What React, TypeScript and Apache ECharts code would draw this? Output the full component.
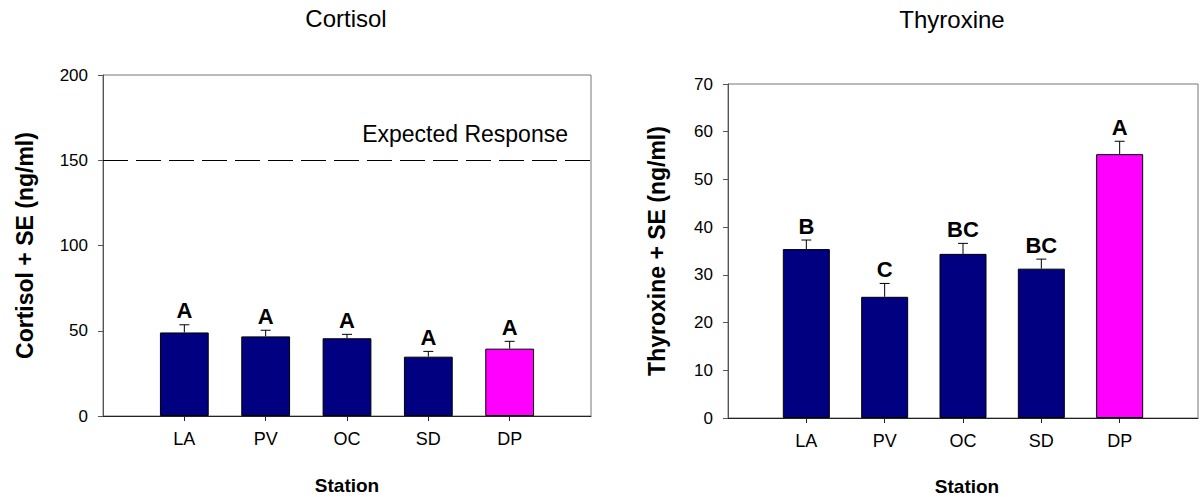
import React, { useEffect, useRef } from "react";
import * as echarts from "echarts";

const stations = ["LA", "PV", "OC", "SD", "DP"];
const highlightStation = "DP";
const cortisolMean = [49, 46.7, 45.6, 34.8, 39.5];
const cortisolSE = [4.5, 3.6, 2.3, 3.1, 4.3];
const cortisolLetters = ["A", "A", "A", "A", "A"];
const thyroxineMean = [35.4, 25.4, 34.4, 31.3, 55.3];
const thyroxineSE = [1.9, 2.8, 2.2, 2.0, 2.7];
const thyroxineLetters = ["B", "C", "BC", "BC", "A"];
const expectedCortisol = 150;

const FONT = 'Arial, "Liberation Sans", Helvetica, sans-serif';
const NAVY = "#000080";
const MAGENTA = "#FF00FF";

const axisCats = ["", ...stations, ""];

function barData(means: number[]) {
  return [
    "-",
    ...means.map((v, i) => ({
      value: v,
      itemStyle: { color: stations[i] === highlightStation ? MAGENTA : NAVY },
    })),
    "-",
  ];
}

function errData(means: number[], se: number[]) {
  return means.map((v, i) => [i + 1, v, se[i], i]);
}

function makeRender(letters: string[]) {
  return (params: any, api: any) => {
    const x = api.value(0);
    const m = api.value(1);
    const s = api.value(2);
    const idx = api.value(3);
    const p0 = api.coord([x, m]);
    const p1 = api.coord([x, m + s]);
    const half = 5;
    return {
      type: "group",
      children: [
        {
          type: "line",
          shape: { x1: p0[0], y1: p0[1], x2: p1[0], y2: p1[1] },
          style: { stroke: "#000", lineWidth: 1 },
        },
        {
          type: "line",
          shape: { x1: p1[0] - half, y1: p1[1], x2: p1[0] + half, y2: p1[1] },
          style: { stroke: "#000", lineWidth: 1 },
        },
        {
          type: "text",
          x: p1[0],
          y: p1[1] - 14,
          style: {
            text: letters[idx],
            align: "center",
            verticalAlign: "middle",
            fontSize: 22,
            fontWeight: "bold",
            fontFamily: FONT,
            fill: "#000",
          },
        },
      ],
    };
  };
}

function xAxisCfg(gridIndex: number) {
  return {
    type: "category",
    gridIndex,
    data: axisCats,
    boundaryGap: false,
    axisLine: { lineStyle: { color: "#222", width: 1 } },
    axisTick: {
      length: 5,
      interval: (i: number, v: string) => v !== "",
      lineStyle: { color: "#222" },
    },
    axisLabel: {
      interval: 0,
      margin: 14,
      fontSize: 18,
      fontFamily: FONT,
      color: "#000",
    },
    splitLine: { show: false },
  };
}

function yAxisCfg(gridIndex: number, max: number, interval: number) {
  return {
    type: "value",
    gridIndex,
    min: 0,
    max,
    interval,
    axisLine: { show: true, lineStyle: { color: "#555", width: 1 } },
    axisTick: { show: true, length: 5, lineStyle: { color: "#555" } },
    axisLabel: {
      margin: 15,
      fontSize: 17,
      fontFamily: FONT,
      color: "#000",
    },
    splitLine: { show: false },
  };
}

export default function App() {
  const ref = useRef<HTMLDivElement>(null);

  useEffect(() => {
    if (!ref.current) return;
    const chart = echarts.init(ref.current, undefined, { renderer: "svg" });
    const option: any = {
      animation: false,
      backgroundColor: "#fff",
      grid: [
        {
          left: 103,
          top: 75,
          width: 488,
          height: 341,
          show: true,
          borderColor: "#777",
          borderWidth: 1,
          containLabel: false,
        },
        {
          left: 728,
          top: 84,
          width: 480,
          height: 334,
          show: true,
          borderColor: "#777",
          borderWidth: 1,
          containLabel: false,
        },
      ],
      xAxis: [xAxisCfg(0), xAxisCfg(1)],
      yAxis: [yAxisCfg(0, 200, 50), yAxisCfg(1, 70, 10)],
      series: [
        {
          type: "bar",
          xAxisIndex: 0,
          yAxisIndex: 0,
          barWidth: "60%",
          data: barData(cortisolMean),
          itemStyle: { borderColor: "#000", borderWidth: 1 },
          markLine: {
            silent: true,
            symbol: "none",
            label: { show: false },
            lineStyle: { type: [25, 8], color: "#000", width: 1 },
            data: [{ yAxis: expectedCortisol }],
          },
        },
        {
          type: "custom",
          xAxisIndex: 0,
          yAxisIndex: 0,
          renderItem: makeRender(cortisolLetters),
          encode: { x: 0, y: 1 },
          data: errData(cortisolMean, cortisolSE),
          z: 5,
        },
        {
          type: "bar",
          xAxisIndex: 1,
          yAxisIndex: 1,
          barWidth: "60%",
          data: barData(thyroxineMean),
          itemStyle: { borderColor: "#000", borderWidth: 1 },
        },
        {
          type: "custom",
          xAxisIndex: 1,
          yAxisIndex: 1,
          renderItem: makeRender(thyroxineLetters),
          encode: { x: 0, y: 1 },
          data: errData(thyroxineMean, thyroxineSE),
          z: 5,
        },
      ],
      graphic: [
        {
          type: "text",
          x: 346,
          y: 18,
          style: {
            text: "Cortisol",
            align: "center",
            verticalAlign: "middle",
            fontSize: 24,
            fontFamily: FONT,
            fill: "#000",
          },
        },
        {
          type: "text",
          x: 952,
          y: 19,
          style: {
            text: "Thyroxine",
            align: "center",
            verticalAlign: "middle",
            fontSize: 24,
            fontFamily: FONT,
            fill: "#000",
          },
        },
        {
          type: "text",
          x: 25,
          y: 245.5,
          rotation: Math.PI / 2,
          style: {
            text: "Cortisol + SE (ng/ml)",
            align: "center",
            verticalAlign: "middle",
            fontSize: 23,
            fontWeight: "bold",
            fontFamily: FONT,
            fill: "#000",
          },
        },
        {
          type: "text",
          x: 657,
          y: 251,
          rotation: Math.PI / 2,
          style: {
            text: "Thyroxine + SE (ng/ml)",
            align: "center",
            verticalAlign: "middle",
            fontSize: 23,
            fontWeight: "bold",
            fontFamily: FONT,
            fill: "#000",
          },
        },
        {
          type: "text",
          x: 347,
          y: 485,
          style: {
            text: "Station",
            align: "center",
            verticalAlign: "middle",
            fontSize: 19,
            fontWeight: "bold",
            fontFamily: FONT,
            fill: "#000",
          },
        },
        {
          type: "text",
          x: 967,
          y: 486,
          style: {
            text: "Station",
            align: "center",
            verticalAlign: "middle",
            fontSize: 19,
            fontWeight: "bold",
            fontFamily: FONT,
            fill: "#000",
          },
        },
        {
          type: "text",
          x: 568,
          y: 134,
          style: {
            text: "Expected Response",
            align: "right",
            verticalAlign: "middle",
            fontSize: 23,
            fontFamily: FONT,
            fill: "#000",
          },
        },
      ],
    };
    chart.setOption(option);
    return () => chart.dispose();
  }, []);

  return (
    <div
      ref={ref}
      style={{ position: "fixed", left: 0, top: 0, width: 1201, height: 497 }}
    />
  );
}
